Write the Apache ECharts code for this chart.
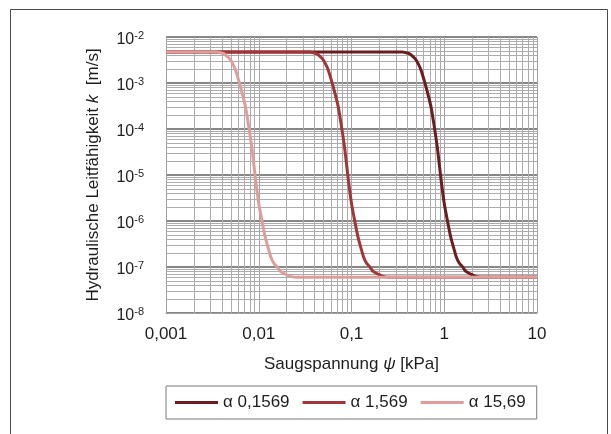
<!DOCTYPE html>
<html>
<head>
<meta charset="utf-8">
<script src="https://cdn.jsdelivr.net/npm/echarts@6/dist/echarts.min.js"></script>
<style>
  html, body { margin: 0; padding: 0; background: #ffffff; }
  #chart { width: 611px; height: 434px; }
</style>
</head>
<body>
<div id="chart"></div>
<script>
// Hydraulic conductivity k(ψ) for three van-Genuchten α values
const seriesNames = ['α 0,1569', 'α 1,569', 'α 15,69'];
const seriesColors = ['#6b1d21', '#a13537', '#df9e9c'];

// suction ψ [kPa] and conductivity k [m/s], α = 0,1569
const psiA = [0.001, 0.01, 0.1, 0.356, 0.386, 0.419, 0.454, 0.494, 0.526, 0.56, 0.634, 0.718, 0.78, 0.848, 0.92, 1.0, 1.13, 1.193, 1.28, 1.352, 1.45, 1.57, 1.71, 1.937, 2.19, 2.61, 10];
const kA   = [4.72e-3, 4.72e-3, 4.72e-3, 4.72e-3, 4.56e-3, 4.34e-3, 3.83e-3, 3.21e-3, 2.57e-3, 1.95e-3, 8.4e-4, 3.1e-4, 1.14e-4, 3.55e-5, 8.5e-6, 2.4e-6, 6.5e-7, 3.92e-7, 2.38e-7, 1.63e-7, 1.22e-7, 1.02e-7, 8.0e-8, 6.97e-8, 6.25e-8, 5.95e-8, 5.95e-8];

// α = 1,569
const psiB = [0.001, 0.01, 0.0356, 0.0386, 0.0419, 0.0454, 0.0494, 0.0526, 0.056, 0.0634, 0.0718, 0.078, 0.0848, 0.092, 0.100, 0.113, 0.1193, 0.128, 0.1352, 0.145, 0.157, 0.171, 0.1937, 0.219, 0.261, 1, 10];
const kB   = [4.72e-3, 4.72e-3, 4.72e-3, 4.56e-3, 4.34e-3, 3.83e-3, 3.21e-3, 2.57e-3, 1.95e-3, 8.4e-4, 3.1e-4, 1.14e-4, 3.55e-5, 8.5e-6, 2.4e-6, 6.5e-7, 3.92e-7, 2.38e-7, 1.63e-7, 1.22e-7, 1.02e-7, 8.0e-8, 6.97e-8, 6.25e-8, 5.95e-8, 5.95e-8, 5.95e-8];

// α = 15,69
const psiC = [0.001, 0.002, 0.00356, 0.00386, 0.00419, 0.00454, 0.00494, 0.00526, 0.0056, 0.00634, 0.00718, 0.0078, 0.00848, 0.0092, 0.0100, 0.0113, 0.01193, 0.0128, 0.01352, 0.0145, 0.0157, 0.0171, 0.01937, 0.0219, 0.0261, 0.1, 10];
const kC   = [4.72e-3, 4.72e-3, 4.72e-3, 4.56e-3, 4.34e-3, 3.83e-3, 3.21e-3, 2.57e-3, 1.95e-3, 8.4e-4, 3.1e-4, 1.14e-4, 3.55e-5, 8.5e-6, 2.4e-6, 6.5e-7, 3.92e-7, 2.38e-7, 1.63e-7, 1.22e-7, 1.02e-7, 8.0e-8, 6.97e-8, 6.25e-8, 5.95e-8, 5.95e-8, 5.95e-8];

const xTickLabels = ['0,001', '0,01', '0,1', '1', '10'];
const yTickExponents = ['-8', '-7', '-6', '-5', '-4', '-3', '-2'];

const xRange = [0.001, 10];
const yRange = [1e-8, 1e-2];
const xDecades = [-3, -2, -1, 0];
const yDecades = [-8, -7, -6, -5, -4, -3];
const minorSteps = [2, 3, 4, 5, 6, 7, 8, 9];

function pairs(xs, ys) { return xs.map((x, i) => [x, ys[i]]); }

// minor log grid lines at 2..9 × 10^d, drawn as full-width segments
const minorLines = [];
xDecades.forEach(d => minorSteps.forEach(m => {
  const v = m * Math.pow(10, d);
  minorLines.push([{ coord: [v, yRange[0]] }, { coord: [v, yRange[1]] }]);
}));
yDecades.forEach(d => minorSteps.forEach(m => {
  const v = m * Math.pow(10, d);
  minorLines.push([{ coord: [xRange[0], v] }, { coord: [xRange[1], v] }]);
}));

const font = '"Liberation Sans", Arial, sans-serif';
const ink = '#1e1e1e';
const chart = echarts.init(document.getElementById('chart'), null, { renderer: 'canvas' });

const curves = [pairs(psiA, kA), pairs(psiB, kB), pairs(psiC, kC)];

chart.setOption({
  animation: false,
  backgroundColor: '#ffffff',
  textStyle: { fontFamily: font, color: ink },
  graphic: [{
    type: 'rect', silent: true, z: -1,
    shape: { x: 10.5, y: 9.5, width: 597, height: 440 },
    style: { fill: null, stroke: '#4a4a4a', lineWidth: 1 }
  }],
  grid: { left: 166, right: 74, top: 37, bottom: 121, containLabel: false },
  xAxis: {
    type: 'log', logBase: 10, min: xRange[0], max: xRange[1], splitNumber: 4,
    name: '{a|Saugspannung }{i|ψ}{a| [kPa]}',
    nameLocation: 'middle', nameGap: 43,
    nameTextStyle: {
      rich: {
        a: { fontSize: 17, fontFamily: font, color: ink },
        i: { fontSize: 17, fontFamily: font, fontStyle: 'italic', color: ink }
      }
    },
    axisLine: { show: true, lineStyle: { color: '#a0a0a0', width: 1 } },
    axisTick: { show: false },
    axisLabel: {
      margin: 13, fontSize: 17, color: ink, fontFamily: font,
      formatter: v => xTickLabels[Math.round(Math.log10(v)) + 3]
    },
    splitLine: { show: true, lineStyle: { color: '#a3a3a3', width: 1 } }
  },
  yAxis: {
    type: 'log', logBase: 10, min: yRange[0], max: yRange[1], splitNumber: 5,
    name: '{a|Hydraulische Leitfähigkeit }{i|k}{a|  [m/s]}',
    nameLocation: 'middle', nameGap: 64, nameRotate: 90,
    nameTextStyle: {
      rich: {
        a: { fontSize: 17, fontFamily: font, color: ink },
        i: { fontSize: 17, fontFamily: font, fontStyle: 'italic', color: ink }
      }
    },
    axisLine: { show: true, lineStyle: { color: '#a0a0a0', width: 1 } },
    axisTick: { show: false },
    axisLabel: {
      margin: 22,
      padding: [5, 0, 0, 0],
      formatter: v => '{b|10}{s|' + yTickExponents[Math.round(Math.log10(v)) + 8] + '}',
      rich: {
        b: { fontSize: 16, fontFamily: font, color: ink, lineHeight: 18 },
        s: { fontSize: 11, fontFamily: font, color: ink, verticalAlign: 'top', lineHeight: 11 }
      }
    },
    splitLine: { show: true, lineStyle: { color: '#878787', width: 2 } }
  },
  legend: {
    data: seriesNames,
    left: 166, top: 386,
    padding: [8, 11, 8, 9],
    itemGap: 13, itemWidth: 43, itemHeight: 3, icon: 'rect',
    borderColor: '#7a7a7a', borderWidth: 1,
    textStyle: { fontSize: 17, fontFamily: font, color: ink }
  },
  series: [
    {
      name: '_grid', type: 'line', data: [], silent: true, z: 1,
      markLine: {
        silent: true, z: 1, symbol: ['none', 'none'], animation: false,
        label: { show: false },
        lineStyle: { color: '#acacac', width: 1, type: 'solid' },
        emphasis: { disabled: true },
        data: minorLines
      }
    }
  ].concat(seriesNames.map((name, i) => ({
    name: name, type: 'line', data: curves[i],
    smooth: 0.2,
    showSymbol: false, symbol: 'none', z: 3,
    lineStyle: { color: seriesColors[i], width: 3 },
    itemStyle: { color: seriesColors[i] }
  })))
});
</script>
</body>
</html>
